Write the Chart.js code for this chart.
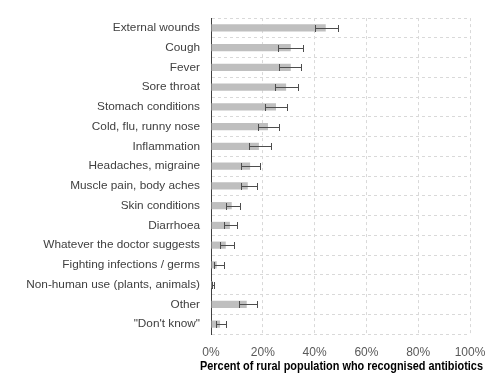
<!DOCTYPE html>
<html>
<head>
<meta charset="utf-8">
<script src="https://cdn.jsdelivr.net/npm/chart.js@4"></script>
<style>
  html, body { margin: 0; padding: 0; background: #fff; }
  #wrap { width: 490px; height: 376px; }
</style>
</head>
<body>
<div id="wrap"><canvas id="usesChart"></canvas></div>
<script>
// reasons people gave for taking antibiotics
const categories = [
  'External wounds', 'Cough', 'Fever', 'Sore throat', 'Stomach conditions',
  'Cold, flu, runny nose', 'Inflammation', 'Headaches, migraine',
  'Muscle pain, body aches', 'Skin conditions', 'Diarrhoea',
  'Whatever the doctor suggests', 'Fighting infections / germs',
  'Non-human use (plants, animals)', 'Other', '"Don\'t know"'
];
const percent = [44.3, 30.8, 30.8, 29.0, 25.1, 22.0, 18.5, 15.1, 14.2, 8.0, 7.3, 5.7, 2.2, 0.7, 13.8, 3.5];
const lowerCI = [40.3, 26.0, 26.4, 24.8, 21.0, 18.1, 14.8, 11.7, 11.6, 5.7, 5.1, 3.5, 1.0, 0.3, 10.9, 2.0];
const upperCI = [48.9, 35.6, 34.9, 33.6, 29.5, 26.3, 23.3, 18.9, 17.6, 11.2, 9.9, 8.9, 5.2, 1.2, 17.9, 5.8];
const xTicks = [0, 20, 40, 60, 80, 100];
const xTitle = 'Percent of rural population who recognised antibiotics';

const FONT = "'Liberation Sans', Arial, sans-serif";

// whiskers for the confidence intervals
const errorBars = {
  id: 'errorBars',
  afterDatasetsDraw(chart) {
    const { ctx, scales: { x } } = chart;
    const meta = chart.getDatasetMeta(0);
    ctx.save();
    ctx.strokeStyle = '#4d4d4d';
    ctx.lineWidth = 1;
    meta.data.forEach((bar, i) => {
      const y = Math.round(bar.y) + 0.5;
      const x1 = Math.round(x.getPixelForValue(lowerCI[i])) + 0.5;
      const x2 = Math.round(x.getPixelForValue(upperCI[i])) + 0.5;
      const cap = 3.5;
      ctx.beginPath();
      ctx.moveTo(x1, y);
      ctx.lineTo(x2, y);
      ctx.moveTo(x1, y - cap);
      ctx.lineTo(x1, y + cap);
      ctx.moveTo(x2, y - cap);
      ctx.lineTo(x2, y + cap);
      ctx.stroke();
    });
    ctx.restore();
  }
};

// axis title runs a little wider than the plot, so draw it by hand
const axisTitle = {
  id: 'axisTitle',
  afterDraw(chart) {
    const { ctx, chartArea: { left, right, bottom } } = chart;
    ctx.save();
    ctx.font = `bold 12px ${FONT}`;
    ctx.fillStyle = '#000';
    ctx.textAlign = 'center';
    ctx.textBaseline = 'middle';
    ctx.fillText(xTitle, (left + right) / 2 + 1, bottom + 33, 283);
    ctx.restore();
  }
};

const config = {
  type: 'bar',
  data: {
    labels: categories,
    datasets: [{
      data: percent,
      backgroundColor: '#bfbfbf',
      barPercentage: 0.7,
      categoryPercentage: 0.52
    }]
  },
  options: {
    indexAxis: 'y',
    responsive: true,
    maintainAspectRatio: false,
    animation: false,
    layout: { padding: { top: 12, right: 0, left: 0, bottom: 0 } },
    plugins: {
      legend: { display: false },
      tooltip: { enabled: false }
    },
    scales: {
      x: {
        min: 0,
        max: 100,
        afterBuildTicks: (scale) => { scale.ticks = xTicks.map(v => ({ value: v })); },
        afterFit: (scale) => {
          scale.height = 42;
          scale.paddingRight = 20;
        },
        border: { display: false, dash: [3, 3] },
        grid: { color: '#d9d9d9', drawTicks: false },
        ticks: {
          padding: 11,
          color: '#595959',
          font: { family: FONT, size: 12 },
          callback: (v) => v + '%'
        }
      },
      y: {
        afterFit: (scale) => { scale.width = 211; },
        border: { display: true, color: '#404040', width: 1, dash: [3, 3] },
        grid: { color: '#d9d9d9', drawTicks: false, offset: true },
        ticks: {
          padding: 11,
          color: '#404040',
          font: { family: FONT, size: 11.8 }
        }
      }
    }
  },
  plugins: [errorBars, axisTitle]
};

const ctx = document.getElementById('usesChart');
new Chart(ctx, config);
</script>
</body>
</html>
